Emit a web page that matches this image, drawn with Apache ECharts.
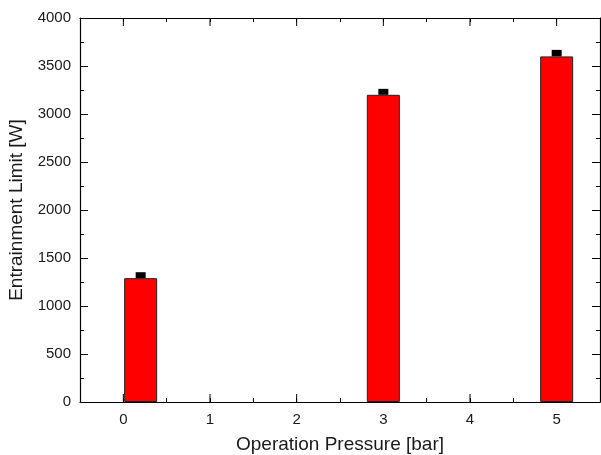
<!DOCTYPE html>
<html>
<head>
<meta charset="utf-8">
<script src="https://cdn.jsdelivr.net/npm/echarts@6/dist/echarts.min.js"></script>
<style>
  html, body { margin: 0; padding: 0; background: #fff; }
  #chart { width: 601px; height: 455px; }
</style>
</head>
<body>
<div id="chart"></div>
<script>
// data
const pressures = [0.2, 3, 5];          // bar positions [bar]
const limits = [1290, 3200, 3600];      // entrainment limit [W]
const errors = [62, 62, 68];            // upper error
const majorTicks = [0, 1, 2, 3, 4, 5];

const font = "Liberation Sans, Arial, sans-serif";
const textColor = "#1a1a1a";

const barData = pressures.map((p, i) => [p, limits[i]]);
const errData = pressures.map((p, i) => [p, limits[i], errors[i]]);

const chart = echarts.init(document.getElementById("chart"), null, { renderer: "canvas" });

const axisCommon = {
  axisLine: { show: true, onZero: false, lineStyle: { color: "#000", width: 1.2 } },
  splitLine: { show: false },
};

const option = {
  animation: false,
  grid: { left: 80, right: 1, top: 18, bottom: 53, containLabel: false, outerBoundsMode: "none" },
  xAxis: [
    {
      ...axisCommon,
      type: "value",
      position: "bottom",
      min: -0.5,
      max: 5.5,
      interval: 0.5,
      axisTick: { show: true, inside: true, length: 4, lineStyle: { color: "#000", width: 1 } },
      axisLabel: {
        margin: 10,
        fontSize: 15,
        fontFamily: font,
        color: textColor,
        formatter: (v) => (Math.abs(v - Math.round(v)) < 1e-6 ? String(Math.round(v)) : ""),
      },
      name: "Operation Pressure [bar]",
      nameLocation: "middle",
      nameGap: 33,
      nameTextStyle: { fontSize: 19, fontFamily: font, color: textColor },
    },
    {
      ...axisCommon,
      type: "value",
      position: "top",
      min: -0.5,
      max: 5.5,
      interval: 0.5,
      axisTick: { show: true, inside: true, length: 4, lineStyle: { color: "#000", width: 1 } },
      axisLabel: { show: false },
    },
  ],
  yAxis: [
    {
      ...axisCommon,
      type: "value",
      position: "left",
      min: 0,
      max: 4000,
      interval: 500,
      axisTick: { show: true, inside: true, length: 8, lineStyle: { color: "#000", width: 1 } },
      minorTick: { show: true, splitNumber: 2, length: 4, lineStyle: { color: "#000", width: 1 } },
      axisLabel: { margin: 9, fontSize: 15, fontFamily: font, color: textColor, formatter: (v) => String(v) },
      name: "Entrainment Limit [W]",
      nameLocation: "middle",
      nameGap: 46,
      nameTextStyle: { fontSize: 19, fontFamily: font, color: textColor },
    },
    {
      ...axisCommon,
      type: "value",
      position: "right",
      min: 0,
      max: 4000,
      interval: 500,
      axisTick: { show: true, inside: true, length: 8, lineStyle: { color: "#000", width: 1 } },
      minorTick: { show: true, splitNumber: 2, length: 4, lineStyle: { color: "#000", width: 1 } },
      axisLabel: { show: false },
    },
  ],
  series: [
    {
      type: "bar",
      xAxisIndex: 0,
      yAxisIndex: 0,
      data: barData,
      barWidth: 33,
      itemStyle: { color: "#ff0000", borderColor: "#222", borderWidth: 1 },
    },
    {
      // upper error caps
      type: "custom",
      xAxisIndex: 0,
      yAxisIndex: 0,
      data: errData,
      z: 5,
      renderItem: (params, api) => {
        const base = api.coord([api.value(0), api.value(1)]);
        const top = api.coord([api.value(0), api.value(1) + api.value(2)]);
        return {
          type: "rect",
          shape: { x: base[0] - 5, y: top[1], width: 10, height: base[1] - top[1] },
          style: { fill: "#000" },
        };
      },
    },
    {
      // longer major ticks on bottom and top x axes
      type: "custom",
      xAxisIndex: 0,
      yAxisIndex: 0,
      data: majorTicks.map((t) => [t]),
      silent: true,
      clip: false,
      renderItem: (params, api) => {
        const b = api.coord([api.value(0), 0]);
        const t = api.coord([api.value(0), 4000]);
        const st = { stroke: "#000", lineWidth: 1 };
        return {
          type: "group",
          children: [
            { type: "line", shape: { x1: b[0], y1: b[1], x2: b[0], y2: b[1] - 8 }, style: st },
            { type: "line", shape: { x1: t[0], y1: t[1], x2: t[0], y2: t[1] + 8 }, style: st },
          ],
        };
      },
    },
  ],
};

chart.setOption(option);
</script>
</body>
</html>
